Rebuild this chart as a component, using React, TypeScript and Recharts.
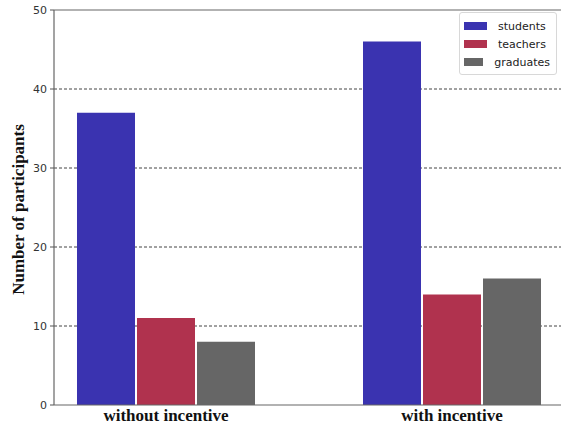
import React from 'react';
import { BarChart, Bar, XAxis, YAxis, CartesianGrid, ReferenceLine, Legend } from 'recharts';

const categories = ['without incentive', 'with incentive'];
const students = [37, 46];
const teachers = [11, 14];
const graduates = [8, 16];
const yTicks = [0, 10, 20, 30, 40, 50];
const gridValues = [10, 20, 30, 40];
const yDomain = [0, 50];

const series = [
  { key: 'students', name: 'students', color: '#3a33b0' },
  { key: 'teachers', name: 'teachers', color: '#b0324e' },
  { key: 'graduates', name: 'graduates', color: '#666666' },
];

const data = categories.map((c, i) => ({
  idx: i,
  name: c,
  students: students[i],
  teachers: teachers[i],
  graduates: graduates[i],
}));

const serif = 'Liberation Serif, Times New Roman, serif';

const LegendBox = () => (
  <div
    style={{
      border: '1px solid #d8d8d8',
      borderRadius: 3,
      background: '#fff',
      padding: '4px 6px 3px 4px',
      fontFamily: 'DejaVu Sans, sans-serif',
      fontSize: 11,
      color: '#222',
      width: 86,
    }}
  >
    {series.map((s) => (
      <div key={s.key} style={{ display: 'flex', alignItems: 'center', height: 18 }}>
        <span style={{ display: 'inline-block', width: 23, height: 8, background: s.color, marginRight: 11 }} />
        <span>{s.name}</span>
      </div>
    ))}
  </div>
);

const YLabel = (props: any) => {
  const vb = props.viewBox || {};
  const cy = (vb.y ?? 10) + (vb.height ?? 395) / 2 + 2;
  return (
    <text
      x={24}
      y={cy}
      transform={`rotate(-90, 24, ${cy})`}
      textAnchor="middle"
      fontFamily={serif}
      fontWeight="bold"
      fontSize={17}
      fill="#111"
    >
      Number of participants
    </text>
  );
};

const gridGen = (p: any) => {
  const sc = p && p.yAxis && p.yAxis.scale;
  if (typeof sc === 'function') return gridValues.map((v) => sc(v));
  if (sc && typeof sc.map === 'function') return gridValues.map((v) => sc.map(v));
  const off = p.offset || { top: 10, height: 395 };
  return gridValues.map((v) => off.top + off.height * (1 - (v - yDomain[0]) / (yDomain[1] - yDomain[0])));
};

export default function App() {
  return (
    <div style={{ position: 'absolute', left: 0, top: 0, width: 561, height: 431, overflow: 'hidden', background: '#fff' }}>
      <BarChart
        width={561}
        height={431}
        data={data}
        margin={{ top: 10, right: 0, bottom: 0, left: 0 }}
        barSize={58}
        barGap={2}
      >
        <CartesianGrid
          vertical={false}
          stroke="#444"
          strokeDasharray="3 2"
          strokeWidth={1}
          horizontalCoordinatesGenerator={gridGen}
        />
        <XAxis
          dataKey="idx"
          type="number"
          domain={[-0.3916, 1.3811]}
          allowDataOverflow
          ticks={[0, 1]}
          tickFormatter={(v: number) => categories[v]}
          tickLine={false}
          axisLine={{ stroke: '#666', strokeWidth: 1.2 }}
          tick={{ fontFamily: serif, fontWeight: 'bold', fontSize: 17, fill: '#111', dy: -2 }}
          tickMargin={0}
          height={26}
        />
        <YAxis
          domain={yDomain}
          ticks={yTicks}
          width={54}
          allowDataOverflow
          axisLine={{ stroke: '#666', strokeWidth: 1.2 }}
          tickLine={{ stroke: '#555' }}
          tickSize={4}
          tickMargin={3}
          tick={{ fontFamily: 'DejaVu Sans, sans-serif', fontSize: 11, fill: '#333' }}
          label={<YLabel />}
        />
        <ReferenceLine y={50} stroke="#666" strokeWidth={1.2} />
        <Legend
          layout="vertical"
          align="center"
          verticalAlign="middle"
          wrapperStyle={{ left: 459, top: 12, width: 98 }}
          content={() => <LegendBox />}
        />
        {series.map((s) => (
          <Bar key={s.key} dataKey={s.key} name={s.name} fill={s.color} isAnimationActive={false} />
        ))}
      </BarChart>
    </div>
  );
}
